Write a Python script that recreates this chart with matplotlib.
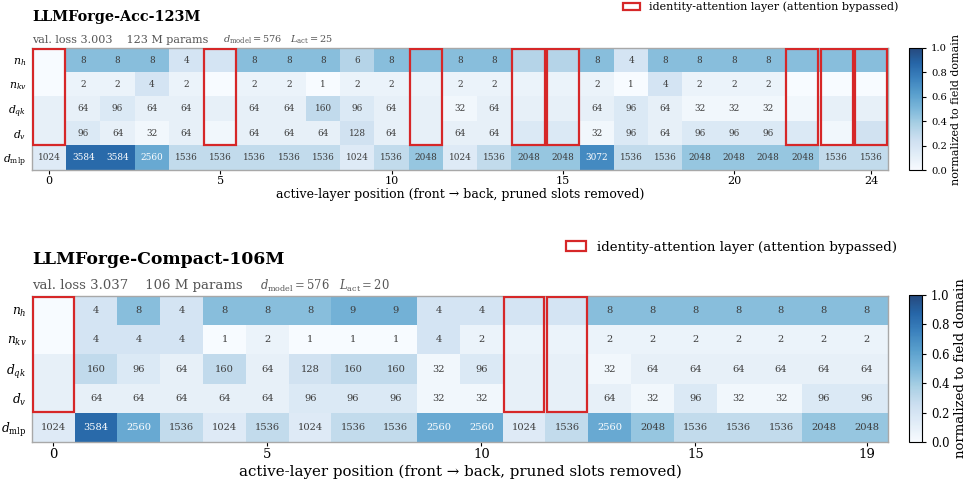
import matplotlib
matplotlib.use("Agg")
import matplotlib.pyplot as plt
from matplotlib.patches import Rectangle, Patch
import numpy as np

plt.rcParams["font.family"] = ["DejaVu Serif"]
plt.rcParams["mathtext.fontset"] = "dejavuserif"

# ---- data -------------------------------------------------------------
row_labels = [r"$n_h$", r"$n_{kv}$", r"$d_{qk}$", r"$d_v$", r"$d_{\mathrm{mlp}}$"]

# LLMForge-Acc-123M (25 active layers)
acc_nh = [1, 8, 8, 8, 4, 4, 8, 8, 8, 6, 8, 8, 8, 8, 6, 6, 8, 4, 8, 8, 8, 8, 8, 8, 8]
acc_nkv = [1, 2, 2, 4, 2, 1, 2, 2, 1, 2, 2, 2, 2, 2, 2, 2, 2, 1, 4, 2, 2, 2, 1, 1, 1]
acc_dqk = [64, 64, 96, 64, 64, 64, 64, 64, 160, 96, 64, 64, 32, 64, 64, 64, 64, 96, 64, 32, 32, 32, 32, 64, 64]
acc_dv = [64, 96, 64, 32, 64, 32, 64, 64, 64, 128, 64, 64, 64, 64, 96, 96, 32, 96, 64, 96, 96, 96, 96, 32, 128]
acc_dmlp = [1024, 3584, 3584, 2560, 1536, 1536, 1536, 1536, 1536, 1024, 1536, 2048, 1024,
            1536, 2048, 2048, 3072, 1536, 1536, 2048, 2048, 2048, 2048, 1536, 1536]
acc_identity = [0, 5, 11, 14, 15, 22, 23, 24]
acc_xticks = [0, 5, 10, 15, 20, 24]

# LLMForge-Compact-106M (20 active layers)
cmp_nh = [1, 4, 8, 4, 8, 8, 8, 9, 9, 4, 4, 4, 4, 8, 8, 8, 8, 8, 8, 8]
cmp_nkv = [1, 4, 4, 4, 1, 2, 1, 1, 1, 4, 2, 2, 2, 2, 2, 2, 2, 2, 2, 2]
cmp_dqk = [64, 160, 96, 64, 160, 64, 128, 160, 160, 32, 96, 64, 64, 32, 64, 64, 64, 64, 64, 64]
cmp_dv = [64, 64, 64, 64, 64, 64, 96, 96, 96, 32, 32, 64, 64, 64, 32, 96, 32, 32, 96, 96]
cmp_dmlp = [1024, 3584, 2560, 1536, 1024, 1536, 1024, 1536, 1536, 2560, 2560, 1024, 1536,
            2560, 2048, 1536, 1536, 1536, 2048, 2048]
cmp_identity = [0, 11, 12]
cmp_xticks = [0, 5, 10, 15, 19]

# search-space domain of each field (used for colour normalisation)
field_domain = [(1, 16), (1, 16), (16, 512), (16, 512), (512, 4096)]

RED = "#d62728"
TXT = "#3c3c3c"
SUB = "#555555"


def draw_panel(fig, ax_rect, cax_rect, rows, identity, xticks, title, sub_main,
               sub_dm, sub_l, sub_x, title_y, sub_y, leg_xy, fs):
    vals = np.array(rows, dtype=float)
    norm = np.empty_like(vals)
    for i, (lo, hi) in enumerate(field_domain):
        norm[i] = (vals[i] - lo) / (hi - lo)
    ncol = vals.shape[1]

    ax = fig.add_axes(ax_rect)
    im = ax.imshow(norm, cmap="Blues", vmin=0, vmax=1, aspect="auto",
                   interpolation="nearest", alpha=0.88)
    for r in range(vals.shape[0]):
        for c in range(ncol):
            if c in identity and r < 4:
                continue
            col = "white" if norm[r, c] > 0.55 else TXT
            ax.text(c, r, f"{int(vals[r, c])}", ha="center", va="center",
                    fontsize=fs["cell"], color=col)
    inset = 0.03
    for c in identity:
        ax.add_patch(Rectangle((c - 0.5 + inset, -0.5 + inset), 1 - 2 * inset, 4 - 2 * inset,
                               fill=False, edgecolor=RED, linewidth=1.6, zorder=5))
    ax.set_yticks(range(5))
    ax.set_yticklabels(row_labels, fontsize=fs["row"])
    ax.tick_params(axis="y", length=0, pad=4)
    ax.set_xticks(xticks)
    ax.set_xticklabels([str(t) for t in xticks], fontsize=fs["tick"])
    ax.tick_params(axis="x", length=3, width=0.8, pad=1)
    for sp in ax.spines.values():
        sp.set_color("#a8a8a8")
        sp.set_linewidth(1.0)
    ax.set_xlabel("active-layer position (front \u2192 back, pruned slots removed)",
                  fontsize=fs["xlabel"], labelpad=fs["labelpad"])

    fig.text(ax_rect[0], title_y, title, fontsize=fs["title"], fontweight="bold",
             ha="left", va="center")
    fig.text(ax_rect[0], sub_y, sub_main, fontsize=fs["sub"], color=SUB,
             ha="left", va="center")
    fig.text(sub_x[0], sub_y, sub_dm, fontsize=fs["submath"], color=SUB,
             ha="left", va="center")
    fig.text(sub_x[1], sub_y, sub_l, fontsize=fs["submath"], color=SUB,
             ha="left", va="center")

    handle = Patch(facecolor="white", edgecolor=RED, linewidth=1.6)
    fig.legend([handle], ["identity-attention layer (attention bypassed)"],
               loc="center right", bbox_to_anchor=leg_xy, frameon=False,
               fontsize=fs["legend"], borderpad=0, borderaxespad=0, handlelength=1.5,
               handleheight=0.7, handletextpad=0.8)

    cax = fig.add_axes(cax_rect)
    cb = fig.colorbar(im, cax=cax)
    cb.set_ticks([0, 0.2, 0.4, 0.6, 0.8, 1.0])
    cb.ax.tick_params(labelsize=fs["cbtick"], length=3, width=0.8)
    cb.outline.set_linewidth(0.8)
    cb.set_label("normalized to field domain", fontsize=fs["cblabel"], labelpad=3)
    return ax


W, H = 972, 487
fig = plt.figure(figsize=(W / 100, H / 100), dpi=100)


def fr(x0, y0, x1, y1):
    return [x0 / W, 1 - y1 / H, (x1 - x0) / W, (y1 - y0) / H]


fs_top = dict(cell=6.4, row=7.8, tick=8.0, xlabel=9.0, labelpad=2, title=10.4,
              sub=8.0, submath=7.0, legend=8.0, cbtick=7.2, cblabel=8.0)
fs_bot = dict(cell=7.1, row=8.8, tick=9.5, xlabel=10.8, labelpad=3, title=12.4,
              sub=9.5, submath=8.3, legend=9.6, cbtick=8.4, cblabel=9.5)

draw_panel(fig, fr(32, 48, 888, 170), fr(909, 48, 922, 170),
           [acc_nh, acc_nkv, acc_dqk, acc_dv, acc_dmlp], acc_identity, acc_xticks,
           "LLMForge-Acc-123M", "val. loss 3.003    123 M params",
           r"$d_{\mathrm{model}}=576$", r"$L_{\mathrm{act}}=25$",
           (223 / W, 290 / W), 1 - 17 / H, 1 - 40 / H, (898 / W, 1 - 7 / H), fs_top)

draw_panel(fig, fr(32, 296, 888, 442), fr(909, 295, 922, 442),
           [cmp_nh, cmp_nkv, cmp_dqk, cmp_dv, cmp_dmlp], cmp_identity, cmp_xticks,
           "LLMForge-Compact-106M", "val. loss 3.037    106 M params",
           r"$d_{\mathrm{model}}=576$", r"$L_{\mathrm{act}}=20$",
           (260 / W, 339 / W), 1 - 259 / H, 1 - 286 / H, (897 / W, 1 - 247 / H), fs_bot)

fig.savefig("out.png", dpi=100)
